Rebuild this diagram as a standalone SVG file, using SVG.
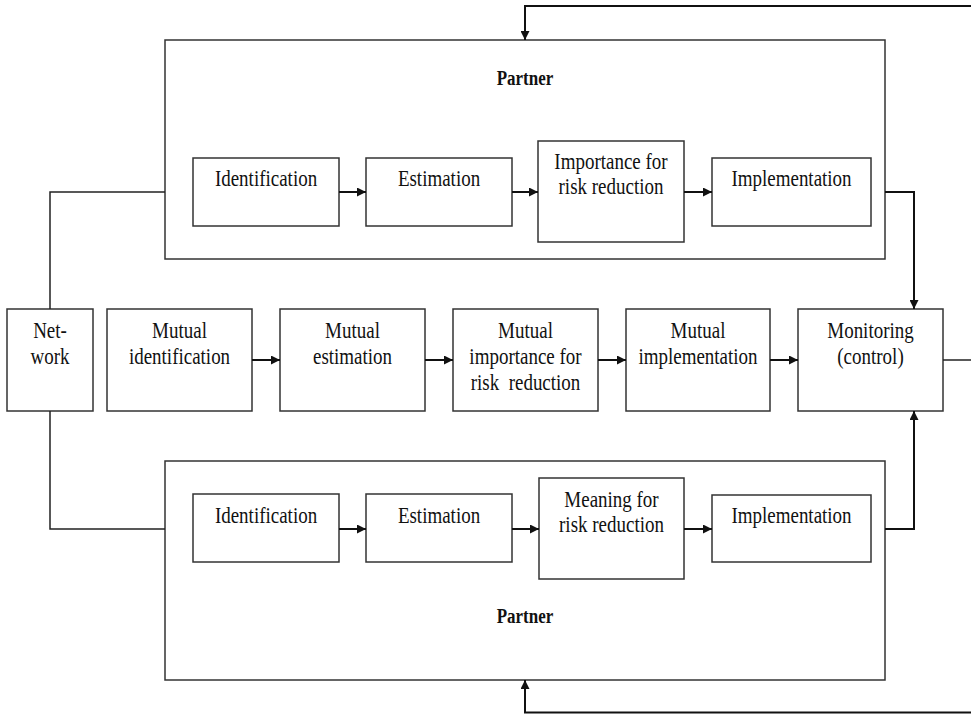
<svg xmlns="http://www.w3.org/2000/svg" width="971" height="714" viewBox="0 0 971 714">
<style>
.box{fill:#fff;stroke:#333;stroke-width:1.5}
.t{font-family:"Liberation Serif","Times New Roman",serif;font-size:19px;fill:#111;text-anchor:middle}
.tb{font-family:"Liberation Serif","Times New Roman",serif;font-size:17px;font-weight:bold;fill:#111;text-anchor:middle}
.c{fill:none;stroke:#222;stroke-width:1.5}
.a{fill:none;stroke:#111;stroke-width:2;marker-end:url(#ah)}
</style>
<defs>
<marker id="ah" viewBox="0 0 10 10" refX="10" refY="5" markerUnits="userSpaceOnUse" markerWidth="10" markerHeight="9" orient="auto">
<path d="M0,0 L10,5 L0,10 Z" fill="#111"/>
</marker>
</defs>
<rect width="971" height="714" fill="#fff"/>

<g id="partner-top">
<rect class="box" x="165" y="40" width="720" height="219"/>
<text class="tb" transform="translate(525,85) scale(1,1.2)">Partner</text>
</g>
<g id="partner-bottom">
<rect class="box" x="165" y="461" width="720" height="219"/>
<text class="tb" transform="translate(525,623) scale(1,1.2)">Partner</text>
</g>

<g id="top-identification">
<rect class="box" x="193" y="158" width="146" height="68"/>
<text class="t" transform="translate(266,186) scale(1,1.2)">Identification</text>
</g>
<g id="top-estimation">
<rect class="box" x="366" y="158" width="146" height="68"/>
<text class="t" transform="translate(439,186) scale(1,1.2)">Estimation</text>
</g>
<g id="top-importance">
<rect class="box" x="538" y="141" width="146" height="101"/>
<text class="t" transform="translate(611,169) scale(1,1.2)">Importance for</text>
<text class="t" transform="translate(611,194) scale(1,1.2)">risk reduction</text>
</g>
<g id="top-implementation">
<rect class="box" x="712" y="158" width="159" height="68"/>
<text class="t" transform="translate(791.5,186) scale(1,1.2)">Implementation</text>
</g>

<g id="network">
<rect class="box" x="7" y="309" width="86" height="102"/>
<text class="t" transform="translate(50,338) scale(1,1.2)">Net-</text>
<text class="t" transform="translate(50,364) scale(1,1.2)">work</text>
</g>
<g id="mutual-identification">
<rect class="box" x="107" y="309" width="145" height="102"/>
<text class="t" transform="translate(179.5,338) scale(1,1.2)">Mutual</text>
<text class="t" transform="translate(179.5,364) scale(1,1.2)">identification</text>
</g>
<g id="mutual-estimation">
<rect class="box" x="280" y="309" width="145" height="102"/>
<text class="t" transform="translate(352.5,338) scale(1,1.2)">Mutual</text>
<text class="t" transform="translate(352.5,364) scale(1,1.2)">estimation</text>
</g>
<g id="mutual-importance">
<rect class="box" x="453" y="309" width="145" height="102"/>
<text class="t" transform="translate(525.5,338) scale(1,1.2)">Mutual</text>
<text class="t" transform="translate(525.5,364) scale(1,1.2)">importance for</text>
<text class="t" transform="translate(525.5,390) scale(1,1.2)" xml:space="preserve">risk  reduction</text>
</g>
<g id="mutual-implementation">
<rect class="box" x="626" y="309" width="144" height="102"/>
<text class="t" transform="translate(698,338) scale(1,1.2)">Mutual</text>
<text class="t" transform="translate(698,364) scale(1,1.2)">implementation</text>
</g>
<g id="monitoring">
<rect class="box" x="798" y="309" width="145" height="102"/>
<text class="t" transform="translate(870.5,338) scale(1,1.2)">Monitoring</text>
<text class="t" transform="translate(870.5,364) scale(1,1.2)">(control)</text>
</g>

<g id="bottom-identification">
<rect class="box" x="193" y="494" width="146" height="68"/>
<text class="t" transform="translate(266,522.5) scale(1,1.2)">Identification</text>
</g>
<g id="bottom-estimation">
<rect class="box" x="366" y="494" width="146" height="68"/>
<text class="t" transform="translate(439,522.5) scale(1,1.2)">Estimation</text>
</g>
<g id="bottom-meaning">
<rect class="box" x="539" y="478" width="145" height="101"/>
<text class="t" transform="translate(611.5,506.5) scale(1,1.2)">Meaning for</text>
<text class="t" transform="translate(611.5,531.5) scale(1,1.2)">risk reduction</text>
</g>
<g id="bottom-implementation">
<rect class="box" x="712" y="495" width="159" height="67"/>
<text class="t" transform="translate(791.5,522.5) scale(1,1.2)">Implementation</text>
</g>

<g id="connectors">
<path class="a" d="M339,192 H366"/>
<path class="a" d="M512,192 H538"/>
<path class="a" d="M684,192 H712"/>
<path class="a" d="M252,360 H280"/>
<path class="a" d="M425,360 H453"/>
<path class="a" d="M598,360 H626"/>
<path class="a" d="M770,360 H798"/>
<path class="a" d="M339,529 H366"/>
<path class="a" d="M512,529 H539"/>
<path class="a" d="M684,529 H712"/>
<path class="c" d="M50,309 V192 H165"/>
<path class="c" d="M50,411 V529 H165"/>
<path class="a" d="M885,192 H914 V309"/>
<path class="a" d="M885,529 H914 V411"/>
<path class="c" d="M943,360 H971"/>
<path class="a" d="M971,6 H525 V40"/>
<path class="a" d="M971,712.5 H525 V680"/>
</g>
</svg>
